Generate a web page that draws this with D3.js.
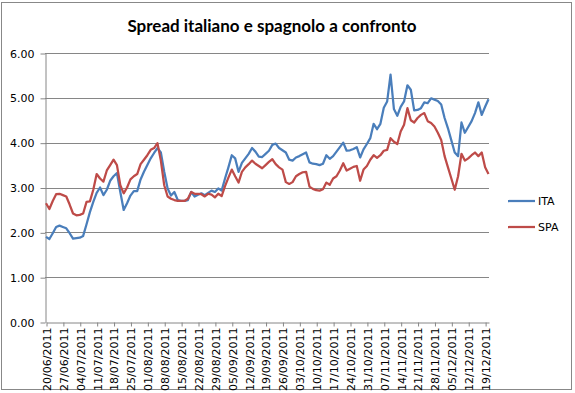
<!DOCTYPE html>
<html><head><meta charset="utf-8">
<script src="https://cdn.jsdelivr.net/npm/d3@7"></script>
<style>body{margin:0;background:#fff}svg{display:block}</style>
</head><body><svg id="c" width="575" height="393"></svg>
<script>
const title = "Spread italiano e spagnolo a confronto";
const seriesNames = ["ITA", "SPA"];
const seriesColors = ["#4A7EBB", "#BE4B48"];
const startDate = "20/06/2011";
const ita = [1.90,1.85,1.98,2.12,2.15,2.12,2.09,1.98,1.86,1.87,1.88,
  1.92,2.18,2.45,2.68,2.88,3.00,2.83,2.95,3.15,3.25,
  3.32,2.90,2.50,2.65,2.82,2.92,2.92,3.18,3.35,3.50,
  3.65,3.77,3.88,3.78,3.35,2.98,2.82,2.90,2.72,2.70,
  2.70,2.72,2.90,2.80,2.84,2.87,2.83,2.88,2.93,2.90,
  2.98,2.93,3.20,3.45,3.72,3.65,3.35,3.55,3.65,3.75,
  3.88,3.80,3.69,3.68,3.75,3.82,3.95,3.98,3.88,3.83,
  3.78,3.62,3.60,3.67,3.70,3.74,3.78,3.56,3.53,3.52,
  3.50,3.53,3.72,3.64,3.70,3.80,3.90,4.00,3.82,3.83,
  3.86,3.90,3.67,3.85,3.97,4.10,4.42,4.30,4.42,4.78,
  4.92,5.52,4.75,4.60,4.80,4.92,5.28,5.18,4.72,4.73,
  4.77,4.90,4.88,4.99,4.96,4.93,4.85,4.55,4.32,4.05,
  3.78,3.70,4.45,4.22,4.35,4.48,4.66,4.90,4.62,4.80,4.97];
const spa = [2.65,2.52,2.70,2.85,2.86,2.83,2.80,2.62,2.42,2.38,2.39,
  2.42,2.68,2.69,2.95,3.30,3.20,3.13,3.38,3.50,3.62,
  3.50,3.05,2.87,3.00,3.18,3.25,3.30,3.52,3.62,3.72,
  3.84,3.88,3.99,3.60,3.05,2.80,2.75,2.72,2.70,2.70,
  2.70,2.75,2.90,2.86,2.86,2.85,2.80,2.86,2.84,2.78,
  2.86,2.81,3.03,3.22,3.40,3.25,3.11,3.35,3.45,3.52,
  3.60,3.53,3.48,3.43,3.50,3.57,3.63,3.52,3.45,3.40,
  3.12,3.08,3.12,3.25,3.30,3.34,3.35,3.02,2.97,2.94,
  2.93,2.96,3.11,3.06,3.20,3.25,3.38,3.54,3.38,3.42,
  3.46,3.48,3.15,3.40,3.48,3.62,3.72,3.66,3.72,3.82,
  3.84,4.10,4.02,3.97,4.25,4.40,4.77,4.50,4.45,4.55,
  4.62,4.66,4.48,4.44,4.36,4.22,4.06,3.70,3.45,3.20,
  2.95,3.25,3.75,3.60,3.65,3.72,3.78,3.70,3.78,3.45,3.30];
const tickLabels = ["20/06/2011","27/06/2011","04/07/2011","11/07/2011","18/07/2011","25/07/2011",
  "01/08/2011","08/08/2011","15/08/2011","22/08/2011","29/08/2011","05/09/2011","12/09/2011",
  "19/09/2011","26/09/2011","03/10/2011","10/10/2011","17/10/2011","24/10/2011","31/10/2011",
  "07/11/2011","14/11/2011","21/11/2011","28/11/2011","05/12/2011","12/12/2011","19/12/2011"];
const yTicks = [0,1,2,3,4,5,6];

// categories: trading days (Mon-Fri) starting at startDate
const parse = d3.timeParse("%d/%m/%Y"), fmt = d3.timeFormat("%d/%m/%Y");
const categories = [];
for (let d = parse(startDate); categories.length < ita.length; d = d3.timeDay.offset(d, 1)) {
  if (d.getDay() !== 0 && d.getDay() !== 6) categories.push(fmt(d));
}
const series = [ita, spa];

const svg = d3.select("#c");
svg.append("rect").attr("x", 1.5).attr("y", 2.5).attr("width", 570).attr("height", 387)
  .attr("fill", "#fff").attr("stroke", "#888").attr("stroke-width", 1);

svg.append("text").attr("x", 272).attr("y", 32).attr("text-anchor", "middle")
  .attr("font-family", "Lato, 'Open Sans', sans-serif").attr("font-weight", "bold")
  .attr("font-size", 17).attr("fill", "#000").text(title);

const x = d3.scalePoint().domain(categories).range([46, 488.5]);
const y = d3.scaleLinear().domain([0, 6]).range([322, 53]);

// gridlines
svg.append("g").selectAll("line").data(yTicks.filter(v => v > 0)).join("line")
  .attr("x1", 45).attr("x2", 489).attr("y1", d => Math.round(y(d)) + 0.5).attr("y2", d => Math.round(y(d)) + 0.5)
  .attr("stroke", "#868686").attr("stroke-width", 1);

// y axis
const yAxis = svg.append("g").attr("transform", "translate(45.5,0.5)")
  .call(d3.axisLeft(y).tickValues(yTicks).tickFormat(d3.format(".2f")).tickSize(5).tickSizeOuter(0));
yAxis.select(".domain").attr("stroke", "#868686");
yAxis.selectAll(".tick line").attr("stroke", "#868686");
yAxis.selectAll(".tick text").attr("font-family", "'DejaVu Sans', sans-serif").attr("font-size", 11)
  .attr("fill", "#000").attr("x", -11);

// x axis
const xAxis = svg.append("g").attr("transform", "translate(0.5,322.5)")
  .call(d3.axisBottom(x).tickValues(tickLabels).tickSize(4).tickSizeOuter(0));
xAxis.select(".domain").attr("stroke", "#868686");
xAxis.selectAll(".tick line").attr("stroke", "#868686");
xAxis.selectAll(".tick text").attr("font-family", "'DejaVu Sans', sans-serif").attr("font-size", 11)
  .attr("fill", "#000").attr("text-anchor", "end").attr("transform", "rotate(-90)")
  .attr("x", -5).attr("y", 0).attr("dy", "0.35em");

// lines
const line = d3.line().x((d, i) => x(categories[i])).y(d => y(d));
series.forEach((s, k) => {
  svg.append("path").datum(s).attr("d", line).attr("fill", "none")
    .attr("stroke", seriesColors[k]).attr("stroke-width", 2.25).attr("stroke-linejoin", "round");
});

// legend
const lg = svg.append("g");
seriesNames.forEach((n, k) => {
  const yy = 201 + k * 26;
  lg.append("line").attr("x1", 508).attr("x2", 535).attr("y1", yy).attr("y2", yy)
    .attr("stroke", seriesColors[k]).attr("stroke-width", 2.25);
  lg.append("text").attr("x", 538).attr("y", yy + 4).attr("font-family", "'DejaVu Sans', sans-serif")
    .attr("font-size", 11).attr("fill", "#000").text(n);
});
</script>
</body></html>
